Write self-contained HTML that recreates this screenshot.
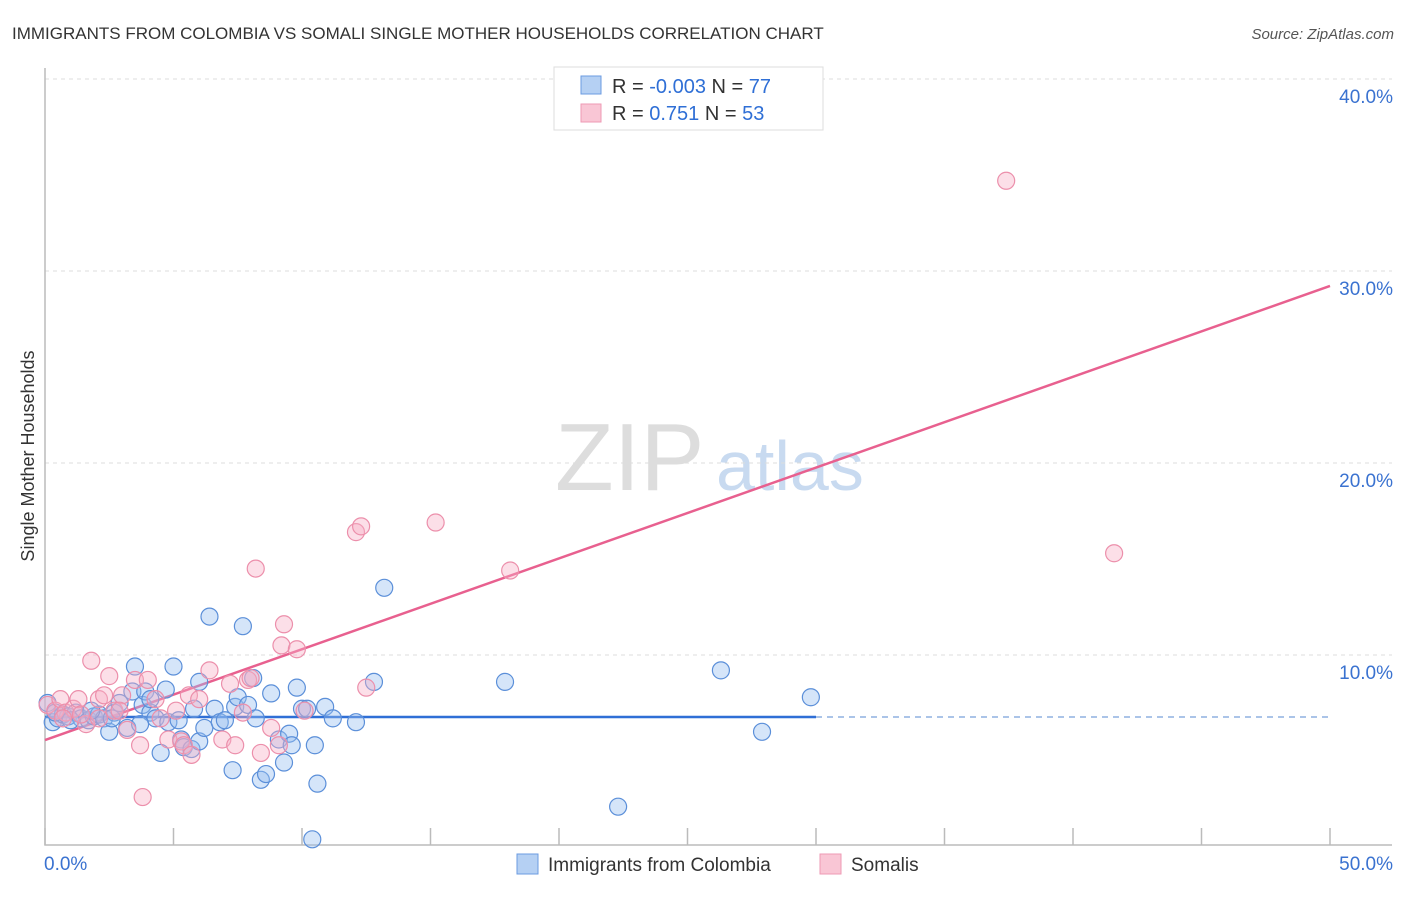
<!DOCTYPE html>
<html><head><meta charset="utf-8"><style>
body{margin:0;background:#fff;font-family:"Liberation Sans",sans-serif}
svg text{font-family:"Liberation Sans",sans-serif}
</style></head><body>
<svg id="chart" width="1406" height="892">
<text x="12" y="39" font-size="17" fill="#333">IMMIGRANTS FROM COLOMBIA VS SOMALI SINGLE MOTHER HOUSEHOLDS CORRELATION CHART</text>
<text x="1394" y="39" font-size="15" fill="#555" font-style="italic" text-anchor="end">Source: ZipAtlas.com</text>
<text transform="translate(34,456) rotate(-90)" font-size="18" fill="#333" text-anchor="middle">Single Mother Households</text>
<g><text x="555" y="490" font-size="96" font-family="Liberation Serif" fill="#ddd">ZIP</text><text x="716" y="490" font-size="70" fill="#c8daf0">atlas</text></g>
<g id="grid"></g><g id="axes"></g><g id="lines"></g><g id="pts"></g>
<g>
<rect x="554" y="67" width="269" height="63" fill="#fff" stroke="#ddd"/>
<rect x="581" y="76" width="20" height="18" fill="#b5d0f3" stroke="#6b9be0"/>
<rect x="581" y="104" width="20" height="18" fill="#f9c6d5" stroke="#ee9ab4"/>
<text x="612" y="93" font-size="20" fill="#333">R = <tspan fill="#2f6fd6">-0.003</tspan>   N = <tspan fill="#2f6fd6">77</tspan></text>
<text x="612" y="120" font-size="20" fill="#333">R =    <tspan fill="#2f6fd6">0.751</tspan>   N = <tspan fill="#2f6fd6">53</tspan></text>
</g>
<g>
<rect x="517" y="854" width="21" height="20" fill="#b5d0f3" stroke="#6b9be0"/>
<text x="548" y="871" font-size="19" fill="#333">Immigrants from Colombia</text>
<rect x="820" y="854" width="21" height="20" fill="#f9c6d5" stroke="#ee9ab4"/>
<text x="851" y="871" font-size="19" fill="#333">Somalis</text>
</g>
</svg>
<script>
const blueX=[0.1,0.3,0.5,0.7,0.9,1.2,1.4,1.7,1.9,2.1,2.3,2.5,2.7,2.9,3.2,3.4,3.5,3.8,3.9,4.1,4.3,4.5,4.7,4.8,5.0,5.2,5.3,5.4,5.7,5.8,6.0,6.0,6.2,6.4,6.6,6.8,7.0,7.3,7.4,7.5,7.7,7.9,8.1,8.2,8.4,8.6,8.8,9.1,9.3,9.5,9.6,9.8,10.0,10.2,10.4,10.5,10.6,10.9,11.2,12.1,12.8,13.2,17.9,22.3,26.3,27.9,29.8,0.4,1.0,1.8,2.6,3.7,4.1];
const blueY=[7.5,6.5,6.7,6.9,6.8,7.0,6.7,6.6,6.8,6.9,6.7,6.0,7.0,7.5,6.2,8.1,9.4,7.4,8.1,7.0,6.7,4.9,8.2,6.5,9.4,6.6,5.6,5.2,5.1,7.2,8.6,5.5,6.2,12.0,7.2,6.5,6.6,4.0,7.3,7.8,11.5,7.4,8.8,6.7,3.5,3.8,8.0,5.6,4.4,5.9,5.3,8.3,7.2,7.2,0.4,5.3,3.3,7.3,6.7,6.5,8.6,13.5,8.6,2.1,9.2,6.0,7.8,7.0,6.6,7.1,6.7,6.4,7.7];
const pinkX=[0.1,0.4,0.6,0.8,1.1,1.3,1.6,1.8,2.1,2.3,2.5,2.7,3.0,3.2,3.5,3.7,3.8,4.0,4.3,4.5,4.8,5.1,5.3,5.4,5.6,5.7,6.0,6.4,6.9,7.2,7.4,7.7,7.9,8.0,8.2,8.4,8.8,9.1,9.2,9.3,9.8,10.1,12.1,12.3,12.5,15.2,18.1,37.4,41.6,0.7,2.1,1.4,2.9];
const pinkY=[7.4,7.1,7.7,7.0,7.2,7.7,6.4,9.7,7.7,7.9,8.9,7.1,7.9,6.1,8.7,5.3,2.6,8.7,7.7,6.7,5.6,7.1,5.5,5.3,7.9,4.8,7.7,9.2,5.6,8.5,5.3,7.0,8.7,8.8,14.5,4.9,6.2,5.3,10.5,11.6,10.3,7.1,16.4,16.7,8.3,16.9,14.4,34.7,15.3,6.7,6.7,6.9,7.1];
const yTicks=[10,20,30,40];
const xTickVals=[0,5,10,15,20,25,30,35,40,45,50];
const pinkFit=[5.57,0.473]; // intercept, slope
const blueFit=[6.77,0,30]; // intercept, slope, solid extent
const X=v=>45+v*25.7, Y=v=>847-v*19.2;
const NS='http://www.w3.org/2000/svg';
function mk(t,a,p){const e=document.createElementNS(NS,t);for(const k in a)e.setAttribute(k,a[k]);p.appendChild(e);return e;}
const grid=document.getElementById('grid'),axes=document.getElementById('axes'),lines=document.getElementById('lines'),pts=document.getElementById('pts');
yTicks.forEach(v=>{
 const l=mk('line',{x1:45,x2:1392,y1:Y(v),y2:Y(v),stroke:'#ddd','stroke-dasharray':'4,4'},grid);
 
 
 const t=mk('text',{x:1393,y:Y(v)+24,'font-size':19,fill:'#3a72d0','text-anchor':'end'},grid);
 t.textContent=v.toFixed(1)+'%';
 
 
});
const ax=mk('path',{d:'M45,68V845H1392',fill:'none',stroke:'#bbb','stroke-width':1.5},axes);


xTickVals.forEach(v=>{
 const l=mk('line',{x1:X(v),x2:X(v),y1:828,y2:845,stroke:'#bbb','stroke-width':1.5},axes);
 
 
});
[[0,'start'],[50,'end']].forEach(([v,a])=>{
 const t=mk('text',{x:v===0?X(v)-1:X(v)+63,y:870,'font-size':19,fill:'#3a72d0','text-anchor':a},axes);
 t.textContent=v.toFixed(1)+'%';
 
 
});
const bl=mk('line',{x1:X(0),x2:X(blueFit[2]),y1:Y(blueFit[0]),y2:Y(blueFit[0]+blueFit[1]*blueFit[2]),stroke:'#2f6fd6','stroke-width':2.5},lines);


const bd=mk('line',{x1:X(blueFit[2]),x2:X(50),y1:Y(blueFit[0]+blueFit[1]*blueFit[2]),y2:Y(blueFit[0]+blueFit[1]*50),stroke:'#8fb0e0','stroke-width':1.5,'stroke-dasharray':'6,5'},lines);


const pl=mk('line',{x1:X(0),x2:X(50),y1:Y(pinkFit[0]),y2:Y(pinkFit[0]+pinkFit[1]*50),stroke:'#e8608f','stroke-width':2.5},lines);


blueX.forEach((x,i)=>{
 const c=mk('circle',{cx:X(x),cy:Y(blueY[i]),r:8.5,fill:'rgba(150,190,240,0.4)',stroke:'#5b8fd9','stroke-width':1.2},pts);
 
 
});
pinkX.forEach((x,i)=>{
 const c=mk('circle',{cx:X(x),cy:Y(pinkY[i]),r:8.5,fill:'rgba(248,175,198,0.4)',stroke:'#ec8fab','stroke-width':1.2},pts);
 
 
});
</script>
</body></html>
